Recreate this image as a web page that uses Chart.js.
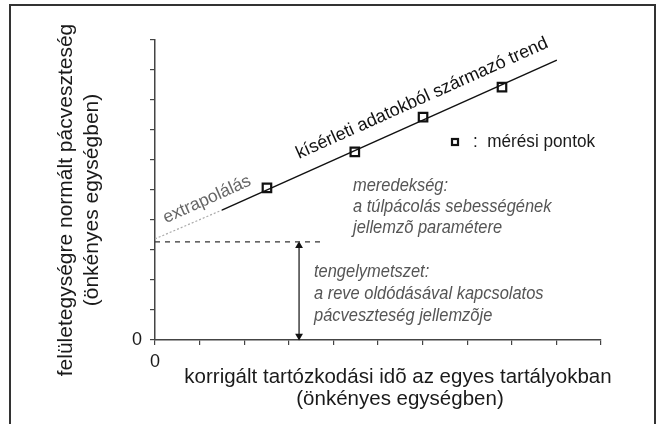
<!DOCTYPE html>
<html>
<head>
<meta charset="utf-8">
<script src="https://cdn.jsdelivr.net/npm/chart.js@4.4.1/dist/chart.umd.min.js"></script>
<style>
  html, body { margin: 0; padding: 0; background: #fff; }
  #wrap { width: 660px; height: 424px; }
</style>
</head>
<body>
<div id="wrap"><canvas id="chart" width="660" height="424"></canvas></div>
<script>
// measured points (arbitrary units)
var pointX = [2.51, 4.48, 6.01, 7.78];
var pointY = [5.07, 6.27, 7.43, 8.43];

// trend from the experimental data, and its extrapolation back to x = 0
var trendX = [1.5, 9.01];
var trendY = [4.33, 9.33];
var extrapX = [0, 1.5];
var extrapY = [3.37, 4.33];

// intercept: dashed level and the double arrow down to zero
var interceptX = [0, 3.74];
var interceptY = [3.27, 3.27];
var arrowX = [3.23, 3.23];
var arrowY = [3.14, 0.13];

var tickValues = [0, 1, 2, 3, 4, 5, 6, 7, 8, 9, 10];
var tickLabels = ['0', '', '', '', '', '', '', '', '', '', ''];

var xTitle = ['korrigált tartózkodási idõ az egyes tartályokban', '(önkényes egységben)'];
var yTitle = ['felületegységre normált pácveszteség', '(önkényes egységben)'];
var slopeNote = ['meredekség:', 'a túlpácolás sebességének', 'jellemzõ paramétere'];
var interceptNote = ['tengelymetszet:', 'a reve oldódásával kapcsolatos', 'pácveszteség jellemzõje'];
var trendLabel = 'kísérleti adatokból származó trend';
var extrapLabel = 'extrapolálás';
var legendLabel = ':  mérési pontok';

var FONT = 'Arial, "Liberation Sans", sans-serif';

function xy(xs, ys) {
  return xs.map(function (x, i) { return { x: x, y: ys[i] }; });
}

function tickLabel(v) {
  var i = tickValues.indexOf(v);
  return i >= 0 ? tickLabels[i] : '';
}

// text at (x, y) turned by angle, squeezed along the run by sx
function drawText(ctx, text, x, y, angle, sx) {
  ctx.save();
  ctx.translate(x, y);
  ctx.rotate(angle || 0);
  ctx.scale(sx || 1, 1);
  ctx.fillText(text, 0, 0);
  ctx.restore();
}

// frame, titles and the annotation texts
var annotations = {
  id: 'annotations',
  beforeDraw: function (chart) {
    var ctx = chart.ctx;
    ctx.save();
    ctx.fillStyle = '#fff';
    ctx.fillRect(0, 0, chart.width, chart.height);
    ctx.strokeStyle = '#333';
    ctx.lineWidth = 2;
    ctx.strokeRect(10, 5, 645, 440);
    ctx.restore();
  },
  afterDraw: function (chart) {
    var ctx = chart.ctx;
    var sx = chart.scales.x, sy = chart.scales.y;
    ctx.save();

    // axis titles
    ctx.fillStyle = '#1a1a1a';
    ctx.textAlign = 'center';
    ctx.textBaseline = 'alphabetic';
    ctx.font = '20.5px ' + FONT;
    drawText(ctx, xTitle[0], 398, 383);
    drawText(ctx, xTitle[1], 400, 405);
    ctx.font = '21px ' + FONT;
    drawText(ctx, yTitle[0], 72, 200, -Math.PI / 2);
    drawText(ctx, yTitle[1], 98, 200, -Math.PI / 2);

    // labels along the trend line
    var ang = Math.atan2(
      sy.getPixelForValue(trendY[1]) - sy.getPixelForValue(trendY[0]),
      sx.getPixelForValue(trendX[1]) - sx.getPixelForValue(trendX[0])
    );
    ctx.font = '18px ' + FONT;
    ctx.fillStyle = '#111';
    drawText(ctx, trendLabel, 424, 103, ang);
    ctx.font = '17.5px ' + FONT;
    ctx.fillStyle = '#666';
    drawText(ctx, extrapLabel, 209, 204, ang);

    // legend entry
    ctx.strokeStyle = '#111';
    ctx.lineWidth = 2.2;
    ctx.fillStyle = '#fff';
    ctx.fillRect(452, 139, 6, 6);
    ctx.strokeRect(452, 139, 6, 6);
    ctx.fillStyle = '#1a1a1a';
    ctx.textAlign = 'left';
    ctx.font = '17.5px ' + FONT;
    drawText(ctx, legendLabel, 473, 147, 0, 0.98);

    // italic notes
    ctx.fillStyle = '#555';
    ctx.font = 'italic 17.5px ' + FONT;
    slopeNote.forEach(function (t, i) { drawText(ctx, t, 353, 191 + i * 21, 0, 0.94); });
    interceptNote.forEach(function (t, i) { drawText(ctx, t, 314, 277 + i * 22, 0, 0.94); });

    ctx.restore();
  }
};

var axisCommon = {
  type: 'linear',
  min: 0,
  max: 10,
  grid: {
    display: true,
    drawOnChartArea: false,
    drawTicks: true,
    tickLength: 5,
    color: '#444',
    lineWidth: 1.2
  },
  border: { display: true, color: '#444', width: 1.5 }
};

new Chart(document.getElementById('chart'), {
  type: 'scatter',
  data: {
    datasets: [
      {
        label: 'extrapolálás',
        type: 'line',
        data: xy(extrapX, extrapY),
        borderColor: '#aaa',
        borderWidth: 1.2,
        borderDash: [2, 2],
        pointRadius: 0,
        fill: false
      },
      {
        label: 'trend',
        type: 'line',
        data: xy(trendX, trendY),
        borderColor: '#111',
        borderWidth: 1.5,
        pointRadius: 0,
        fill: false
      },
      {
        label: 'tengelymetszet',
        type: 'line',
        data: xy(interceptX, interceptY),
        borderColor: '#333',
        borderWidth: 1.2,
        borderDash: [5, 5],
        pointRadius: 0,
        fill: false
      },
      {
        label: 'nyíl',
        type: 'line',
        data: xy(arrowX, arrowY),
        borderColor: '#111',
        borderWidth: 1.2,
        pointStyle: 'triangle',
        rotation: [0, 180],
        pointRadius: 4.5,
        pointBackgroundColor: '#111',
        pointBorderColor: '#111',
        pointBorderWidth: 0,
        fill: false
      },
      {
        label: 'mérési pontok',
        data: xy(pointX, pointY),
        pointStyle: 'rect',
        pointRadius: 6,
        pointBackgroundColor: '#fff',
        pointBorderColor: '#111',
        pointBorderWidth: 2.2
      }
    ]
  },
  options: {
    responsive: false,
    animation: false,
    clip: false,
    layout: { padding: { left: 0, right: 59, top: 40, bottom: 0 } },
    plugins: {
      legend: { display: false },
      tooltip: { enabled: false }
    },
    scales: {
      x: Object.assign({}, axisCommon, {
        ticks: {
          stepSize: 1,
          autoSkip: false,
          maxRotation: 0,
          padding: 6,
          color: '#1a1a1a',
          font: { size: 18, family: FONT },
          callback: function (v) { return tickLabel(v); }
        },
        afterFit: function (scale) { scale.height = 84; }
      }),
      y: Object.assign({}, axisCommon, {
        ticks: {
          stepSize: 1,
          autoSkip: false,
          padding: 8,
          color: '#1a1a1a',
          font: { size: 18, family: FONT },
          callback: function (v) { return tickLabel(v); }
        },
        afterFit: function (scale) { scale.width = 155; }
      })
    }
  },
  plugins: [annotations]
});
</script>
</body>
</html>
